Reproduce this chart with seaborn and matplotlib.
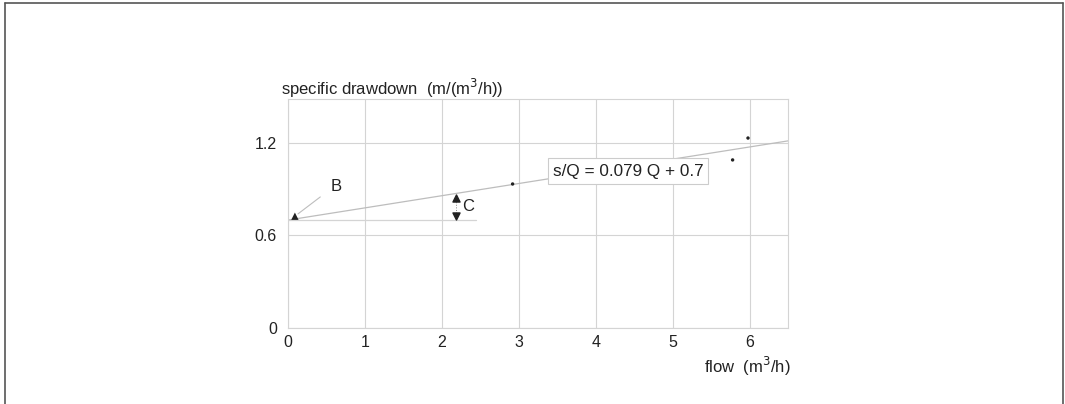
import numpy as np
import pandas as pd
import matplotlib
matplotlib.use("Agg")
import matplotlib.pyplot as plt
import seaborn as sns

# measured points (flow m3/h, specific drawdown m/(m3/h))
flow = [2.92, 5.78, 5.98]
drawdown = [0.934, 1.09, 1.232]
# point B (intercept marker)
b_flow = [0.09]
b_drawdown = [0.725]

# fitted line s/Q = 0.079 Q + 0.7
slope = 0.079
intercept = 0.7
fit_q = [0.0, 6.5]

x_ticks = [0, 1, 2, 3, 4, 5, 6]
y_ticks = [0, 0.6, 1.2]
y_tick_labels = ["0", "0.6", "1.2"]

sns.set_theme(style="whitegrid")
plt.rcParams['font.family'] = ['Liberation Sans', 'DejaVu Sans']

fig = plt.figure(figsize=(10.65, 4.04), dpi=100)
ax = fig.add_axes([0.2704, 0.1881, 0.4695, 0.5668])

grid_col = "#d4d4d4"
line_col = "#bdbdbd"
txt_col = "#222222"

fit = pd.DataFrame({"q": fit_q, "sq": [slope * q + intercept for q in fit_q]})
sns.lineplot(data=fit, x="q", y="sq", ax=ax, color=line_col, lw=0.9, zorder=2)

# horizontal reference line at intercept (for C)
ax.plot([0, 2.45], [intercept, intercept], color=grid_col, lw=0.9, zorder=2)

pts = pd.DataFrame({"q": flow, "sq": drawdown})
sns.scatterplot(data=pts, x="q", y="sq", ax=ax, color=txt_col, s=6,
                edgecolor="none", zorder=4)
sns.scatterplot(x=b_flow, y=b_drawdown, ax=ax, marker="^", color=txt_col,
                s=28, edgecolor="none", zorder=4)

# leader line for B
ax.plot([0.13, 0.42], [0.74, 0.85], color=line_col, lw=0.8, zorder=3)
ax.text(0.55, 0.915, "B", fontsize=12, color=txt_col, va="center")

# C arrows
c_x = 2.18
ax.plot([c_x, c_x], [0.745, 0.835], color="#888888", lw=0.7, ls=":", zorder=3)
ax.scatter([c_x], [0.846], marker="^", color=txt_col, s=26, zorder=4)
ax.scatter([c_x], [0.728], marker="v", color=txt_col, s=26, zorder=4)
ax.text(2.27, 0.785, "C", fontsize=12, color=txt_col, va="center")

# equation box
ax.text(4.42, 1.018, "s/Q = 0.079 Q + 0.7", fontsize=12.3, color=txt_col,
        ha="center", va="center", zorder=5,
        bbox=dict(boxstyle="square,pad=0.3", fc="white", ec="#cccccc", lw=0.8))

ax.set_xlim(0, 6.5)
ax.set_ylim(0, 1.485)
ax.set_xticks(x_ticks)
ax.set_yticks(y_ticks)
ax.set_yticklabels(y_tick_labels)
ax.set_xlabel("")
ax.set_ylabel("")
ax.grid(True, color=grid_col, lw=0.8)
for s in ax.spines.values():
    s.set_color(grid_col)
    s.set_linewidth(0.8)
ax.tick_params(axis="both", labelsize=11.5, colors=txt_col, length=4,
               color=grid_col)
ax.tick_params(axis="y", pad=4)
ax.tick_params(axis="x", pad=1)

fig.text(0.2638, 0.782, "specific drawdown  (m/(m$^3$/h))", fontsize=12,
         color=txt_col, ha="left", va="center")
fig.text(0.742, 0.092, "flow  (m$^3$/h)", fontsize=12, color=txt_col,
         ha="right", va="center")

# outer frame: left, top, right (open at the bottom)
frame = "#555555"
fig.add_artist(plt.Line2D([0.0047, 0.0047], [0, 0.993], color=frame, lw=1.2,
                          transform=fig.transFigure))
fig.add_artist(plt.Line2D([0.0047, 0.9985], [0.993, 0.993], color=frame, lw=1.2,
                          transform=fig.transFigure))
fig.add_artist(plt.Line2D([0.9985, 0.9985], [0, 0.993], color=frame, lw=1.2,
                          transform=fig.transFigure))

fig.savefig("out.png", dpi=100)
